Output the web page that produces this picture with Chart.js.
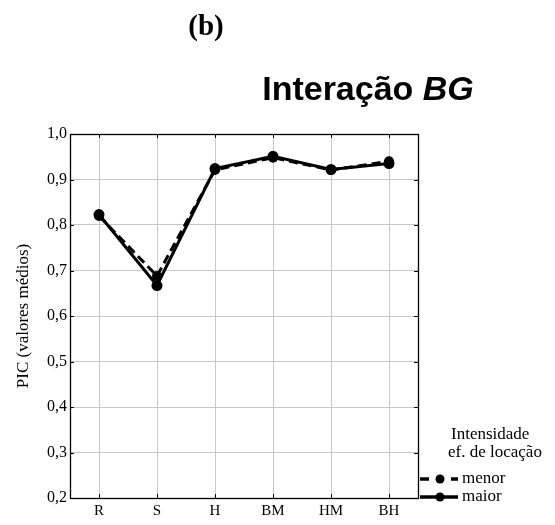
<!DOCTYPE html>
<html><head><meta charset="utf-8">
<script src="https://cdn.jsdelivr.net/npm/chart.js@4"></script>
<style>html,body{margin:0;padding:0;background:#fff}#wrap{width:555px;height:525px}</style>
</head><body><div id="wrap"><canvas id="c" width="555" height="525"></canvas></div>
<script>
const categories = ["R","S","H","BM","HM","BH"];
const menor = [0.820, 0.688, 0.921, 0.948, 0.921, 0.940];
const maior = [0.823, 0.667, 0.924, 0.951, 0.922, 0.935];
const yTicks = [0.2,0.3,0.4,0.5,0.6,0.7,0.8,0.9,1.0];
const seriesNames = ["menor","maior"];

const serif = "'Liberation Serif', 'Times New Roman', serif";
const sans = "'Liberation Sans', Arial, sans-serif";

const deco = {
  id:'deco',
  afterDraw(chart){
    const ctx = chart.ctx, a = chart.chartArea;
    ctx.save();
    ctx.strokeStyle='#000'; ctx.lineWidth=1;
    const xs = chart.scales.x, ys = chart.scales.y;
    categories.forEach((c,i)=>{
      const x = Math.round(xs.getPixelForValue(i))+0.5;
      ctx.beginPath(); ctx.moveTo(x,a.bottom); ctx.lineTo(x,a.bottom-4); ctx.stroke();
      ctx.beginPath(); ctx.moveTo(x,a.top); ctx.lineTo(x,a.top+4); ctx.stroke();
    });
    yTicks.forEach(v=>{
      const y = Math.round(ys.getPixelForValue(v))+0.5;
      ctx.beginPath(); ctx.moveTo(a.right,y); ctx.lineTo(a.right-4,y); ctx.stroke();
      ctx.beginPath(); ctx.moveTo(a.left,y); ctx.lineTo(a.left+4,y); ctx.stroke();
    });
    ctx.lineWidth=1.3;
    ctx.strokeRect(a.left+0.5,a.top+0.5,a.right-a.left,a.bottom-a.top);
    // titles
    ctx.fillStyle='#000';
    ctx.textBaseline='alphabetic';
    ctx.font="bold 29px "+serif;
    ctx.textAlign='center';
    ctx.fillText("(b)",206,35);
    const t1="Interação ", t2="BG";
    ctx.font="bold 34px "+sans;
    const w1=ctx.measureText(t1).width;
    ctx.font="italic bold 34px "+sans;
    const w2=ctx.measureText(t2).width;
    const x0 = 368-(w1+w2)/2;
    ctx.textAlign='left';
    ctx.font="bold 34px "+sans;
    ctx.fillText(t1,x0,100);
    ctx.font="italic bold 34px "+sans;
    ctx.fillText(t2,x0+w1,100);
    // legend
    ctx.font="17px "+serif;
    ctx.fillText("Intensidade",451,439);
    ctx.fillText("ef. de locação",448,457);
    const ds = chart.data.datasets;
    const ly=[479,497];
    ds.forEach((d,i)=>{
      ctx.strokeStyle='#000'; ctx.lineWidth=3.5;
      if(d.borderDash){
        ctx.beginPath(); ctx.moveTo(420,ly[i]); ctx.lineTo(429,ly[i]); ctx.stroke();
        ctx.beginPath(); ctx.moveTo(451,ly[i]); ctx.lineTo(458,ly[i]); ctx.stroke();
      } else {
        ctx.beginPath(); ctx.moveTo(420,ly[i]); ctx.lineTo(458,ly[i]); ctx.stroke();
      }
      ctx.beginPath(); ctx.arc(440,ly[i],4.5,0,Math.PI*2); ctx.fill();
      ctx.fillText(d.label,462,ly[i]+4);
    });
    ctx.restore();
  }
};

new Chart(document.getElementById('c'),{
  type:'line',
  data:{labels:categories,datasets:[
    {label:seriesNames[0],data:menor,borderColor:'#000',backgroundColor:'#000',borderWidth:3,borderDash:[9,5],pointRadius:5,pointBorderWidth:0,tension:0},
    {label:seriesNames[1],data:maior,borderColor:'#000',backgroundColor:'#000',borderWidth:3,pointRadius:5.5,pointBorderWidth:0,tension:0}
  ]},
  options:{
    responsive:false,animation:false,
    layout:{padding:{top:134,right:137,left:13,bottom:0}},
    plugins:{legend:{display:false},tooltip:{enabled:false},title:{display:false}},
    scales:{
      x:{offset:true,
        grid:{offset:false,color:'#c8c8c8',lineWidth:1,drawTicks:false},
        border:{display:false},
        ticks:{color:'#000',font:{family:serif,size:15},padding:4,maxRotation:0},
        afterFit(s){s.height=27;}
      },
      y:{min:0.2,max:1.0,
        afterBuildTicks(s){s.ticks=yTicks.map(v=>({value:v}));},
        grid:{color:'#c8c8c8',lineWidth:1,drawTicks:false},
        border:{display:false},
        ticks:{color:'#000',font:{family:serif,size:16},padding:3,callback:v=>v.toFixed(1).replace('.',',')},
        title:{display:true,text:'PIC (valores médios)',color:'#000',font:{family:serif,size:17},padding:{top:0,bottom:0}},
        afterFit(s){s.width=57;}
      }
    }
  },
  plugins:[deco]
});
</script></body></html>
